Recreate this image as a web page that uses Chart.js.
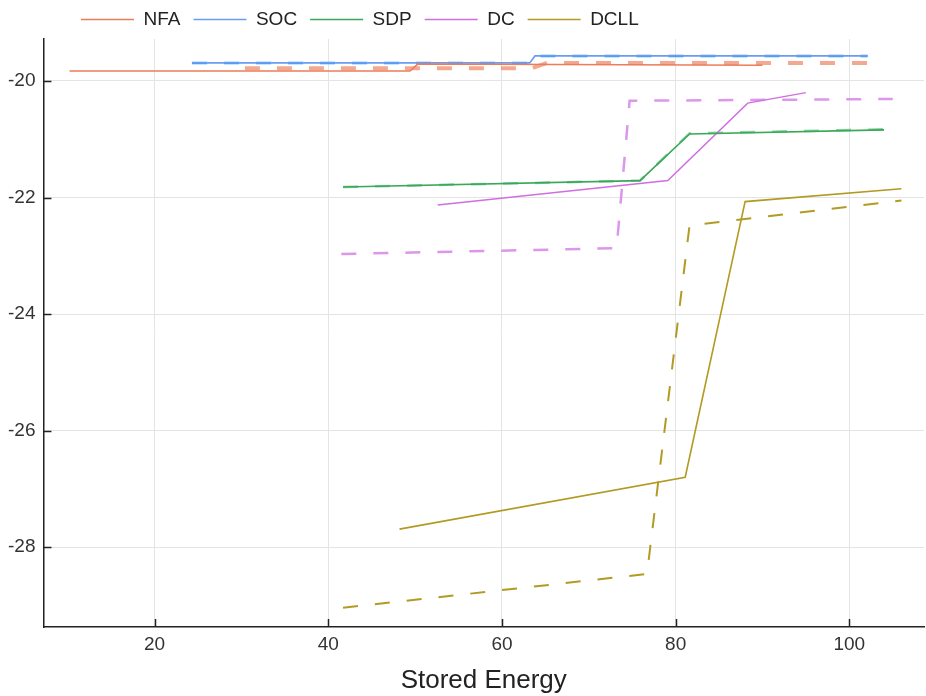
<!DOCTYPE html>
<html>
<head>
<meta charset="utf-8">
<script src="https://cdn.jsdelivr.net/npm/chart.js@4.4.1/dist/chart.umd.min.js"></script>
<style>
  body { margin: 0; background: #fff; }
  #wrap { width: 926px; height: 696px; }
</style>
</head>
<body>
<div id="wrap"><canvas id="energyChart"></canvas></div>
<script>
// valores
const nfaX = [10.2, 49.4, 50.3, 90.0];
const nfaY = [-19.83, -19.83, -19.71, -19.73];
const nfaDashX = [30.4, 63.5, 65.2, 102.1];
const nfaDashY = [-19.78, -19.78, -19.69, -19.69];

const socX = [24.3, 63.2, 63.8, 102.1];
const socY = [-19.69, -19.69, -19.57, -19.57];
const socDashX = [24.3, 63.2, 63.8, 102.1];
const socDashY = [-19.69, -19.69, -19.57, -19.57];

const sdpX = [41.7, 75.9, 81.6, 104.0];
const sdpY = [-21.82, -21.71, -20.91, -20.84];
const sdpDashX = [41.7, 75.9, 81.6, 104.0];
const sdpDashY = [-21.82, -21.71, -20.90, -20.83];

const dcX = [52.6, 79.1, 88.3, 95.0];
const dcY = [-22.13, -21.71, -20.38, -20.20];
const dcDashX = [41.5, 73.2, 74.7, 105.0];
const dcDashY = [-22.97, -22.87, -20.34, -20.31];

const dcllX = [48.2, 81.1, 88.0, 106.0];
const dcllY = [-27.69, -26.80, -22.07, -21.85];
const dcllDashX = [41.7, 76.7, 81.6, 106.0];
const dcllDashY = [-29.04, -28.46, -22.48, -22.05];

const xTicks = [20, 40, 60, 80, 100];
const yTicks = [-28, -26, -24, -22, -20];

const pts = (xs, ys) => xs.map((x, i) => ({ x: x, y: ys[i] }));

function line(label, xs, ys, color, width, dash) {
    return {
        label: label,
        data: pts(xs, ys),
        borderColor: color,
        backgroundColor: color,
        borderWidth: width,
        borderDash: dash || [],
        borderCapStyle: 'butt',
        pointRadius: 0,
        showLine: true,
        tension: 0
    };
}

const DASH = [15, 17];

// ticks hacia dentro, como en el original
const innerTicks = {
    id: 'innerTicks',
    afterDraw(chart) {
        const { ctx, chartArea: a, scales: { x, y } } = chart;
        ctx.save();
        ctx.strokeStyle = '#222';
        ctx.lineWidth = 1.5;
        xTicks.forEach(v => {
            const px = Math.round(x.getPixelForValue(v)) + 0.5;
            ctx.beginPath(); ctx.moveTo(px, a.bottom); ctx.lineTo(px, a.bottom - 8); ctx.stroke();
        });
        yTicks.forEach(v => {
            const py = Math.round(y.getPixelForValue(v)) + 0.5;
            ctx.beginPath(); ctx.moveTo(a.left, py); ctx.lineTo(a.left + 8, py); ctx.stroke();
        });
        ctx.restore();
    }
};

// mover la leyenda a su sitio
const legendShift = {
    id: 'legendShift',
    afterLayout(chart) {
        chart.legend.left += 68;
    }
};

const ctx = document.getElementById('energyChart').getContext('2d');
const energyChart = new Chart(ctx, {
    type: 'scatter',
    data: {
        datasets: [
            line('NFA', nfaX, nfaY, '#ec7c5a', 1.6),
            line('SOC', socX, socY, '#6a9cf4', 1.6),
            line('SDP', sdpX, sdpY, '#3aa85a', 1.6),
            line('DC', dcX, dcY, '#d070e0', 1.5),
            line('DCLL', dcllX, dcllY, '#b39a22', 1.6),
            line('', nfaDashX, nfaDashY, 'rgba(238,140,105,0.75)', 4, DASH),
            line('', socDashX, socDashY, '#1f9cf0', 2.5, DASH),
            line('', sdpDashX, sdpDashY, 'rgba(90,190,120,0.7)', 2.5, DASH),
            line('', dcDashX, dcDashY, 'rgba(215,140,232,0.9)', 2.5, DASH),
            line('', dcllDashX, dcllDashY, '#b39a22', 2, DASH)
        ]
    },
    options: {
        responsive: true,
        maintainAspectRatio: false,
        animation: false,
        layout: { padding: { left: 0, right: 2, bottom: 0, top: -3 } },
        plugins: {
            tooltip: { enabled: false },
            legend: {
                position: 'top',
                align: 'start',
                labels: {
                    usePointStyle: true,
                    pointStyle: 'line',
                    pointStyleWidth: 53,
                    padding: 13,
                    color: '#222',
                    font: { family: 'Liberation Sans', size: 19 },
                    filter: item => item.text !== ''
                }
            }
        },
        scales: {
            x: {
                type: 'linear',
                min: 7.2,
                max: 108.6,
                afterBuildTicks: s => { s.ticks = xTicks.map(v => ({ value: v })); },
                ticks: {
                    padding: 6,
                    color: '#333',
                    font: { family: 'Liberation Sans', size: 19 }
                },
                grid: { color: '#e4e4e4', drawTicks: false },
                border: { color: '#222', width: 1.5 },
                title: {
                    display: true,
                    text: 'Stored Energy',
                    color: '#222',
                    padding: { top: 3, bottom: 0 },
                    font: { family: 'Liberation Sans', size: 26 }
                }
            },
            y: {
                type: 'linear',
                min: -29.37,
                max: -19.28,
                afterBuildTicks: s => { s.ticks = yTicks.map(v => ({ value: v })); },
                ticks: {
                    padding: 8,
                    color: '#333',
                    font: { family: 'Liberation Sans', size: 19 }
                },
                grid: { color: '#e4e4e4', drawTicks: false },
                border: { color: '#222', width: 1.5 }
            }
        }
    },
    plugins: [innerTicks, legendShift]
});
</script>
</body>
</html>
